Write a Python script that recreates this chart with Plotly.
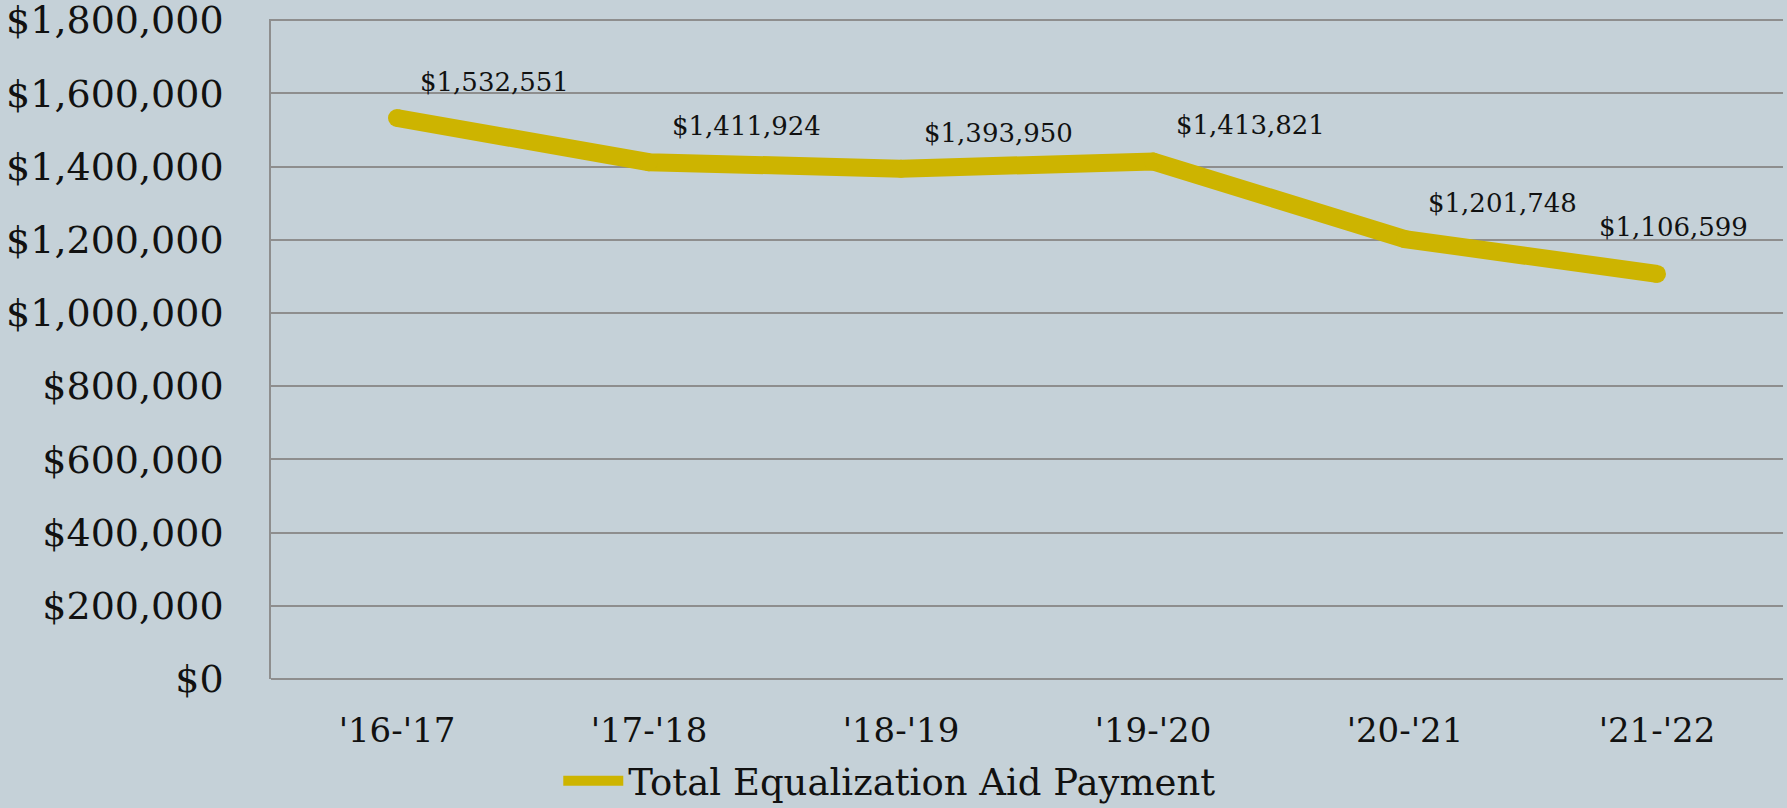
import plotly.graph_objects as go

years = ["'16-'17", "'17-'18", "'18-'19", "'19-'20", "'20-'21", "'21-'22"]
payments = [1532551, 1411924, 1393950, 1413821, 1201748, 1106599]
series_name = "Total Equalization Aid Payment"

BG = "#C5D1D8"
GOLD = "#CDB400"
GRID = "#8E8E8E"
FONT = "DejaVu Serif"

fig = go.Figure()
fig.add_trace(go.Scatter(
    x=years, y=payments, mode="lines", name=series_name,
    line=dict(color=GOLD, width=18),
))
# round joins / caps
fig.add_trace(go.Scatter(
    x=years, y=payments, mode="markers", showlegend=False, hoverinfo="skip",
    marker=dict(color=GOLD, size=18), cliponaxis=False,
))

# data labels sit up and to the right of each point; last one is pulled in
for i, (x, y) in enumerate(zip(years, payments)):
    last = i == len(years) - 1
    fig.add_annotation(
        x=x, y=y, text=f"${y:,}", showarrow=False,
        xanchor="center", yanchor="middle",
        xshift=16 if last else 97, yshift=47 if last else 36,
        font=dict(family=FONT, size=26, color="#111111"),
    )

fig.update_layout(
    width=1787, height=808,
    paper_bgcolor=BG, plot_bgcolor=BG,
    font=dict(family=FONT, color="#111111"),
    margin=dict(l=271, r=4, t=19, b=129, autoexpand=False),
    showlegend=True,
    legend=dict(
        orientation="h", x=0.19, y=-0.155, xanchor="left", yanchor="middle",
        font=dict(family=FONT, size=37), bgcolor="rgba(0,0,0,0)",
        itemwidth=60,
    ),
    xaxis=dict(
        range=[-0.5, len(years) - 0.5], automargin=False,
        showgrid=False, showline=False, zeroline=False,
        tickfont=dict(size=34), ticks="", ticklabelstandoff=28,
    ),
    yaxis=dict(
        range=[0, 1803000], tick0=0, dtick=200000, tickprefix="$", tickformat=",d",
        automargin=False,
        showgrid=True, gridcolor=GRID, gridwidth=1.5,
        showline=True, linecolor=GRID, linewidth=1.5,
        zeroline=True, zerolinecolor=GRID, zerolinewidth=1.5,
        tickfont=dict(size=38), ticks="", ticklabelstandoff=38,
        ticklabeloverflow="allow",
    ),
)

fig.write_html("out.html", config={"displayModeBar": False},
               post_script="document.body.style.margin='0';")
